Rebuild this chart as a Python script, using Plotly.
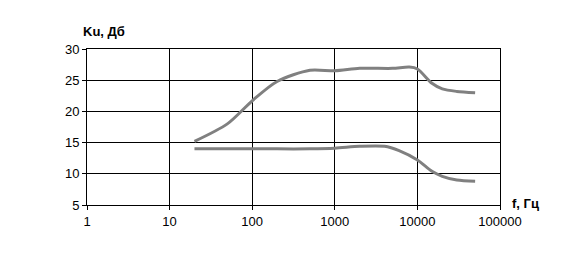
import plotly.graph_objects as go

freq_upper = [20, 50, 100, 200, 500, 1000, 2000, 5000, 8000, 10000, 15000, 20000, 30000, 50000]
ku_upper = [15.2, 18.0, 21.7, 24.8, 26.6, 26.5, 26.9, 26.9, 27.1, 26.8, 24.5, 23.6, 23.2, 23.0]

freq_lower = [20, 50, 100, 200, 500, 1000, 2000, 4000, 6000, 10000, 15000, 20000, 30000, 50000]
ku_lower = [14.0, 14.0, 14.0, 14.0, 14.0, 14.1, 14.4, 14.4, 13.7, 12.2, 10.4, 9.6, 9.0, 8.8]

x_tickvals = [1, 10, 100, 1000, 10000, 100000]
x_ticktext = ["1", "10", "100", "1000", "10000", "100000"]
y_tickvals = [5, 10, 15, 20, 25, 30]

y_title = "Ku, Дб"
x_title = "f, Гц"

fig = go.Figure()
for xs, ys in [(freq_upper, ku_upper), (freq_lower, ku_lower)]:
    fig.add_trace(go.Scatter(x=xs, y=ys, mode="lines",
                             line=dict(color="#808080", width=3, shape="spline", smoothing=0.8),
                             showlegend=False, hoverinfo="skip"))

font = dict(family="Liberation Sans, Arial, sans-serif", size=13, color="#000000")

fig.update_layout(
    width=574, height=273,
    margin=dict(l=87, r=74, t=49, b=68),
    paper_bgcolor="#ffffff", plot_bgcolor="#ffffff",
    font=font,
    xaxis=dict(type="log", range=[0, 5], tickvals=x_tickvals, ticktext=x_ticktext,
               showgrid=True, gridcolor="#000000", gridwidth=1,
               showline=True, linecolor="#000000", linewidth=1, mirror=True,
               ticks="outside", ticklen=4, tickcolor="#000000", tickfont=font),
    yaxis=dict(range=[5, 30], tickvals=y_tickvals,
               showgrid=True, gridcolor="#000000", gridwidth=1,
               showline=True, linecolor="#000000", linewidth=1, mirror=True,
               ticks="outside", ticklen=4, tickcolor="#000000", tickfont=font,
               zeroline=False),
    annotations=[
        dict(text="<b>" + y_title + "</b>", x=81, y=273 - 31.5, xref="paper", yref="paper",
             showarrow=False, xanchor="left", yanchor="middle", font=font),
        dict(text="<b>" + x_title + "</b>", x=510, y=273 - 203, xref="paper", yref="paper",
             showarrow=False, xanchor="left", yanchor="middle", font=font),
    ],
)

# convert pixel annotation positions to paper coords
pw = 574 - 87 - 74
ph = 273 - 49 - 68
for a in fig.layout.annotations:
    a.x = (a.x - 87) / pw
    a.y = (a.y - 68) / ph

fig.write_html("out.html")
